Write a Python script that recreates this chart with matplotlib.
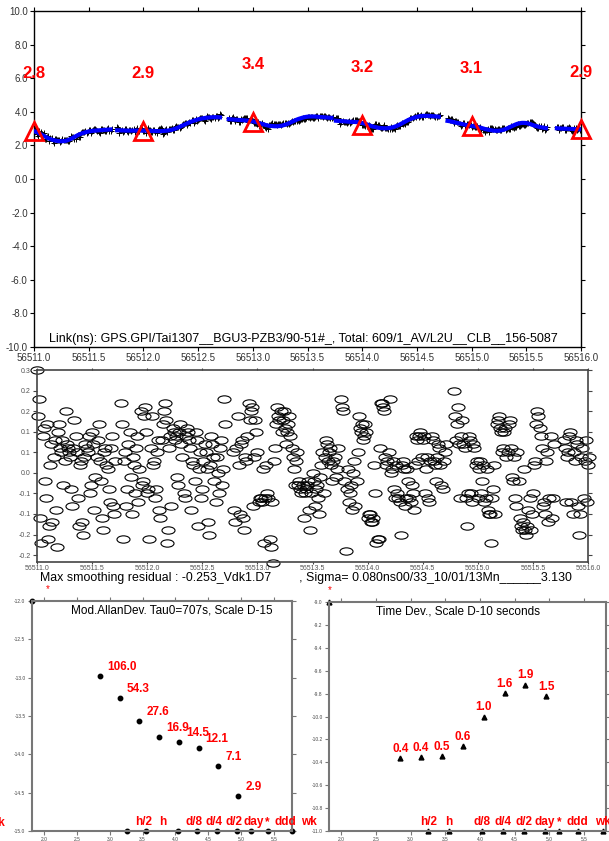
import matplotlib
matplotlib.use('Agg')
import matplotlib.pyplot as plt
import numpy as np
from matplotlib.path import Path
from matplotlib.transforms import Affine2D

plt.rcParams['font.family'] = ['Liberation Sans', 'DejaVu Sans']

# ---- link data: segments (MJD), smooth sampled every 0.02 day, residuals every 0.01 day ----
step = 0.02
seg_starts = [56511.00, 56511.76, 56512.78, 56513.76, 56514.78, 56515.78]

smooth = [
    [2.85, 2.80, 2.74, 2.67, 2.60, 2.53, 2.46, 2.40, 2.35, 2.31, 2.28, 2.26,
     2.25, 2.25, 2.26, 2.29, 2.34, 2.40, 2.47, 2.54, 2.61, 2.67, 2.72, 2.76,
     2.80, 2.83, 2.85, 2.87, 2.88, 2.89, 2.90, 2.91, 2.92, 2.93, 2.94, 2.95],
    [2.90, 2.90, 2.89, 2.89, 2.88, 2.88, 2.88, 2.88, 2.88, 2.88, 2.88, 2.88,
     2.88, 2.88, 2.88, 2.87, 2.86, 2.86, 2.85, 2.85, 2.85, 2.86, 2.87, 2.88,
     2.90, 2.93, 2.97, 3.02, 3.07, 3.13, 3.19, 3.25, 3.31, 3.37, 3.42, 3.47,
     3.51, 3.55, 3.58, 3.61, 3.63, 3.65, 3.66, 3.67, 3.68, 3.68, 3.68, 3.67],
    [3.56, 3.55, 3.54, 3.53, 3.52, 3.51, 3.50, 3.49, 3.48, 3.47, 3.45, 3.43,
     3.40, 3.37, 3.33, 3.29, 3.25, 3.21, 3.18, 3.16, 3.15, 3.14, 3.14, 3.15,
     3.17, 3.20, 3.24, 3.29, 3.35, 3.41, 3.47, 3.53, 3.58, 3.62, 3.66, 3.69,
     3.71, 3.72, 3.72, 3.72, 3.71, 3.70, 3.69, 3.68, 3.67, 3.66, 3.65, 3.64],
    [3.47, 3.46, 3.45, 3.44, 3.43, 3.42, 3.41, 3.40, 3.40, 3.39, 3.38, 3.36,
     3.33, 3.30, 3.26, 3.21, 3.16, 3.12, 3.09, 3.06, 3.04, 3.03, 3.02, 3.02,
     3.03, 3.05, 3.08, 3.12, 3.17, 3.23, 3.30, 3.37, 3.44, 3.51, 3.57, 3.62,
     3.66, 3.70, 3.73, 3.75, 3.76, 3.76, 3.76, 3.75, 3.74, 3.73, 3.72, 3.71],
    [3.46, 3.44, 3.41, 3.38, 3.35, 3.32, 3.29, 3.26, 3.23, 3.20, 3.18, 3.16,
     3.14, 3.12, 3.09, 3.06, 3.02, 2.98, 2.95, 2.92, 2.90, 2.88, 2.87, 2.87,
     2.88, 2.91, 2.95, 3.00, 3.06, 3.12, 3.18, 3.24, 3.29, 3.32, 3.34, 3.34,
     3.33, 3.30, 3.26, 3.21, 3.17, 3.13, 3.10, 3.07, 3.05, 3.03],
    [3.02, 3.01, 3.00, 3.00, 2.99, 2.99, 2.98, 2.98, 2.97, 2.97, 2.96, 2.96],
]

# residuals at the smooth sample times
resid = [
    [0.25, 0.18, -0.17, 0.11, -0.06, -0.16, 0.02, -0.12, 0.08, -0.18, 0.12, 0.05,
     -0.03, 0.15, 0.06, 0.04, -0.08, 0.13, 0.05, -0.13, 0.03, -0.15, 0.07, 0.05,
     -0.05, 0.10, -0.09, 0.04, 0.12, -0.02, -0.14, 0.06, 0.01, -0.07, 0.09, -0.10],
    [0.17, -0.16, 0.05, -0.04, 0.10, -0.10, 0.02, 0.06, -0.07, 0.15, -0.02, 0.16,
     -0.05, -0.16, 0.14, 0.03, -0.04, 0.08, -0.11, 0.12, 0.17, -0.17, 0.06, -0.08,
     0.10, 0.09, -0.03, 0.12, 0.04, -0.06, 0.11, 0.08, -0.09, 0.02, 0.10, -0.13,
     0.05, -0.04, 0.07, 0.01, -0.15, 0.09, 0.04, -0.07, 0.00, 0.06, -0.03, 0.18],
    [0.05, -0.12, 0.14, -0.10, 0.08, -0.14, 0.03, 0.17, 0.15, -0.08, 0.13, 0.05,
     -0.06, -0.07, -0.17, 0.02, -0.06, -0.18, -0.22, 0.06, 0.16, 0.13, 0.10, 0.15,
     0.07, 0.12, 0.09, 0.04, -0.03, 0.05, -0.02, -0.05, -0.11, -0.04, -0.02, -0.14,
     0.00, -0.08, -0.03, -0.10, 0.02, -0.05, 0.08, 0.03, 0.06, -0.02, 0.04, 0.01],
    [0.18, 0.15, -0.19, 0.01, -0.05, -0.09, 0.03, -0.02, 0.14, 0.10, 0.08, 0.12,
     -0.11, -0.10, -0.12, 0.02, -0.17, -0.16, 0.17, 0.16, 0.04, 0.03, 0.18, 0.01,
     -0.04, 0.02, -0.06, -0.15, 0.03, -0.08, 0.01, -0.06, -0.03, -0.09, 0.09, 0.03,
     0.10, 0.08, -0.05, 0.04, -0.07, 0.09, 0.03, -0.02, 0.07, 0.02, -0.04, 0.05],
    [0.20, 0.08, 0.16, -0.06, 0.13, 0.06, -0.13, 0.09, -0.05, 0.07, 0.02, -0.06,
     0.03, -0.02, -0.07, 0.01, -0.10, -0.17, -0.04, -0.10, 0.13, 0.11, 0.05, 0.10,
     0.04, 0.12, 0.06, -0.02, -0.06, 0.05, -0.11, -0.14, 0.01, -0.15, -0.09, -0.14,
     -0.05, 0.03, 0.15, 0.11, 0.06, -0.07, 0.03, -0.12, 0.09, -0.06],
    [0.08, -0.07, 0.05, 0.10, -0.10, 0.03, 0.07, -0.15, 0.04, -0.06, 0.08, 0.02],
]

# residuals half a step (0.01 day) later
resid_mid = [
    [0.14, -0.11, 0.09, -0.02, 0.12, -0.13, 0.07, 0.04, -0.09, 0.10, 0.06, 0.08,
     0.03, 0.07, 0.05, -0.04, 0.06, 0.09, -0.06, 0.02, -0.12, 0.04, 0.06, 0.09,
     -0.03, 0.07, -0.01, 0.08, 0.03, -0.11, 0.05, 0.02, -0.04, 0.06, -0.08, 0.03],
    [0.12, 0.03, -0.08, 0.07, -0.01, 0.04, -0.05, 0.09, 0.01, -0.03, 0.14, 0.10,
     -0.04, 0.06, 0.02, -0.06, 0.05, -0.09, 0.08, 0.15, 0.13, -0.14, 0.09, 0.11,
     0.08, -0.01, 0.10, 0.07, -0.05, 0.09, 0.10, 0.06, 0.03, -0.02, 0.08, 0.01,
     -0.06, 0.03, 0.05, -0.12, 0.02, 0.07, -0.02, 0.04, -0.05, 0.08, 0.01, 0.12],
    [-0.09, 0.06, 0.02, 0.07, -0.11, 0.04, 0.09, 0.13, 0.16, 0.04, 0.10, -0.07,
     -0.06, 0.01, -0.06, -0.05, -0.16, -0.07, 0.03, 0.12, 0.14, 0.15, 0.13, 0.11,
     0.10, 0.14, 0.06, 0.01, 0.03, -0.03, -0.04, -0.03, -0.05, -0.03, -0.09, -0.05,
     -0.02, -0.04, -0.06, -0.01, 0.05, 0.04, 0.07, 0.05, 0.02, 0.03, -0.01, 0.06],
    [0.16, -0.02, -0.04, -0.07, -0.03, 0.00, -0.08, 0.05, 0.11, 0.12, 0.09, 0.10,
     -0.10, -0.12, -0.11, -0.05, -0.16, 0.06, 0.17, 0.15, 0.02, 0.05, 0.00, 0.03,
     -0.06, -0.05, -0.07, 0.02, 0.01, -0.06, -0.02, -0.07, -0.05, 0.02, 0.08, 0.09,
     0.04, 0.09, 0.01, -0.06, 0.03, 0.08, 0.02, 0.04, 0.06, -0.03, 0.03, 0.07],
    [0.14, 0.12, 0.07, 0.09, 0.07, -0.06, -0.05, 0.08, -0.07, 0.06, 0.03, 0.01,
     -0.05, 0.02, -0.06, -0.09, -0.10, -0.06, 0.02, 0.12, 0.14, 0.10, 0.06, 0.11,
     0.05, 0.13, -0.01, 0.04, -0.08, -0.02, -0.13, -0.12, -0.14, -0.13, -0.06, -0.10,
     0.02, 0.12, 0.14, 0.09, -0.08, -0.10, 0.05, -0.06, -0.11, 0.07],
    [0.06, 0.04, 0.09, -0.07, 0.05, 0.08, -0.08, -0.10, 0.06, 0.03, -0.07, 0.04],
]

# daily markers
tri_t = [56511.0, 56512.0, 56513.0, 56514.0, 56515.0, 56516.0]
tri_y = [2.85, 2.85, 3.42, 3.22, 3.15, 2.95]
tri_lab = ['2.8', '2.9', '3.4', '3.2', '3.1', '2.9']

# ---- stability ----
tau = [707, 1414, 2828, 5656, 11312, 22624, 45248, 90496]
adev = [106.0, 54.3, 27.6, 16.9, 14.5, 12.1, 7.1, 2.9]          # x1e-15
tdev = [0.43, 0.44, 0.45, 0.55, 1.0, 1.6, 1.9, 1.5]            # x1e-10 s
tdev_lab = ['0.4', '0.4', '0.5', '0.6', '1.0', '1.6', '1.9', '1.5']
mark_tau = [1800, 3600, 10800, 21600, 43200, 86400, 140000, 259200, 604800]
mark_lab = ['h/2', 'h', 'd/8', 'd/4', 'd/2', 'day', '*', 'ddd', 'wk']

link_txt = 'Link(ns): GPS.GPI/Tai1307__BGU3-PZB3/90-51#_, Total: 609/1_AV/L2U__CLB__156-5087'
res_txt = ('Max smoothing residual : -0.253_Vdk1.D7        , '
           'Sigma= 0.080ns00/33_10/01/13Mn______3.130')

W, H = 609, 841
fig = plt.figure(figsize=(W / 100, H / 100), dpi=100)


def box(l, t, r, b):
    return [l / W, 1 - b / H, (r - l) / W, (b - t) / H]


def style(ax, size, col='#333333', scol='black', slw=1.0):
    ax.tick_params(direction='out', top=True, right=True, labeltop=False,
                   labelright=False, labelsize=size, labelcolor=col,
                   length=3, width=0.8, color=scol, pad=1.5)
    for s in ax.spines.values():
        s.set_color(scol)
        s.set_linewidth(slw)


# ---- top panel ----
ax1 = fig.add_axes(box(34, 11, 581, 347))
for t0, sm, rs, rm in zip(seg_starts, smooth, resid, resid_mid):
    t = t0 + step * np.arange(len(sm))
    tt = t0 + step / 2 * np.arange(2 * len(sm))
    rr = np.column_stack([rs, rm]).ravel()
    ax1.plot(tt, np.repeat(sm, 2) + rr, '+', color='black', ms=4, mew=0.7, zorder=2)
    ax1.plot(t, sm, color='blue', lw=3, zorder=3)
ax1.plot(tri_t, tri_y, '^', ms=13, mfc='none', mec='red', mew=2, zorder=4, clip_on=False)
for t, y, s in zip(tri_t, tri_y, tri_lab):
    ax1.text(t, y + 3.4, s, color='red', fontsize=12, fontweight='bold',
             ha='center', va='center', zorder=5, clip_on=False)
ax1.set_xlim(56511.0, 56516.0)
ax1.set_ylim(-10, 10)
ax1.set_xticks(np.arange(56511.0, 56516.01, 0.5))
ax1.set_xticklabels(['%.1f' % v for v in np.arange(56511.0, 56516.01, 0.5)])
ax1.set_yticks(np.arange(-10, 10.1, 2))
ax1.set_yticklabels(['%.1f' % v for v in np.arange(-10, 10.1, 2)])
style(ax1, 7)
fig.text(49 / W, 1 - 339 / H, link_txt, fontsize=9, va='center', ha='left')

# ---- residual panel ----
ax2 = fig.add_axes(box(37, 370, 588, 562))
ell = Path.unit_circle().transformed(Affine2D().scale(1.0, 0.56))
for t0, rs, rm in zip(seg_starts, resid, resid_mid):
    tt = t0 + step / 2 * np.arange(2 * len(rs))
    rr = np.column_stack([rs, rm]).ravel()
    ax2.plot(tt, rr, ls='none', marker=ell, ms=9.4, mfc='none', mec='black',
             mew=0.8, clip_on=False)
ax2.set_xlim(56511.0, 56516.0)
ax2.set_ylim(-0.217, 0.251)
ax2.set_xticks(np.arange(56511.0, 56516.01, 0.5))
ax2.set_xticklabels(['%.1f' % v for v in np.arange(56511.0, 56516.01, 0.5)])
ax2.set_yticks([-0.2, -0.15, -0.1, -0.05, 0.0, 0.05, 0.1, 0.15, 0.2, 0.25])
ax2.set_yticklabels(['-0.2', '-0.2', '-0.1', '-0.1', '0.0', '0.1', '0.1', '0.2', '0.2', '0.3'])
style(ax2, 5, col='#555555', scol='#444444', slw=1.2)
ax2.tick_params(axis='x', length=1.5, pad=0.3)
fig.text(40 / W, 1 - 578 / H, res_txt, fontsize=8.9, va='center', ha='left')

# ---- Allan deviation ----
ax3 = fig.add_axes(box(31.7, 601, 292.3, 831))
lx = np.log10(tau)
ax3.plot(lx, np.log10(np.array(adev) * 1e-15), 'o', color='black', ms=3.2)
for x, v in zip(lx, adev):
    ax3.annotate('%.1f' % v, (x, np.log10(v * 1e-15)), xytext=(5, 2),
                 textcoords='offset points', color='red', fontsize=8.5,
                 fontweight='bold', ha='left', va='bottom')
ax3.set_xlim(1.81, 5.78)
ax3.set_ylim(-15, -12)
ax3.set_xticks(np.arange(2.0, 5.51, 0.5))
ax3.set_xticklabels(['%.1f' % v for v in np.arange(2.0, 5.51, 0.5)])
ax3.set_yticks(np.arange(-15, -11.9, 0.5))
ax3.set_yticklabels(['%.1f' % v for v in np.arange(-15, -11.9, 0.5)])
style(ax3, 3.5, col='#444444', scol='#777777', slw=1.5)
ax3.text(0.538, 0.957, 'Mod.AllanDev. Tau0=707s, Scale D-15', transform=ax3.transAxes,
         fontsize=8.5, ha='center', va='center')
mx = np.log10(mark_tau)
ax3.plot(mx, [-15] * len(mx), 'o', color='black', ms=3.2, clip_on=False)
for x, s in zip(mx, mark_lab):
    ax3.annotate(s, (x, -15), xytext=(12, 2), textcoords='offset points', color='red',
                 fontsize=8.5, fontweight='bold', ha='center', va='bottom',
                 annotation_clip=False)
ax3.plot([1.81], [-12], 'o', color='black', ms=3.2, clip_on=False)
ax3.text(0.063, 1.05, '*', transform=ax3.transAxes, color='red', fontsize=7,
         ha='center', va='center')

# ---- time deviation ----
ax4 = fig.add_axes(box(329, 602, 606, 831))
ax4.plot(lx, np.log10(np.array(tdev) * 1e-10), '^', color='black', ms=3.5)
for x, v, s in zip(lx, tdev, tdev_lab):
    ax4.annotate(s, (x, np.log10(v * 1e-10)), xytext=(0, 2.5),
                 textcoords='offset points', color='red', fontsize=8.5,
                 fontweight='bold', ha='center', va='bottom')
ax4.set_xlim(1.82, 5.82)
ax4.set_ylim(-11, -9)
ax4.set_xticks(np.arange(2.0, 5.51, 0.5))
ax4.set_xticklabels(['%.1f' % v for v in np.arange(2.0, 5.51, 0.5)])
ax4.set_yticks(np.arange(-11, -8.99, 0.2))
ax4.set_yticklabels(['%.1f' % v for v in np.arange(-11, -8.99, 0.2)])
style(ax4, 3.5, col='#444444', scol='#777777', slw=1.5)
ax4.text(0.464, 0.957, 'Time Dev., Scale D-10 seconds', transform=ax4.transAxes,
         fontsize=8.5, ha='center', va='center')
ax4.plot(mx, [-11] * len(mx), '^', color='black', ms=3.5, clip_on=False)
for x, s in zip(mx, mark_lab):
    ax4.annotate(s, (x, -11), xytext=(0, 2), textcoords='offset points', color='red',
                 fontsize=8.5, fontweight='bold', ha='center', va='bottom',
                 annotation_clip=False)
ax4.plot([1.82], [-9], '^', color='black', ms=3.5, clip_on=False)
ax4.text(0.004, 1.05, '*', transform=ax4.transAxes, color='red', fontsize=7,
         ha='center', va='center')

fig.text(-3.5 / W, 1 - 823 / H, 'wk', color='red', fontsize=8.5, fontweight='bold',
         ha='center', va='center')

fig.savefig('out.png', dpi=100)
